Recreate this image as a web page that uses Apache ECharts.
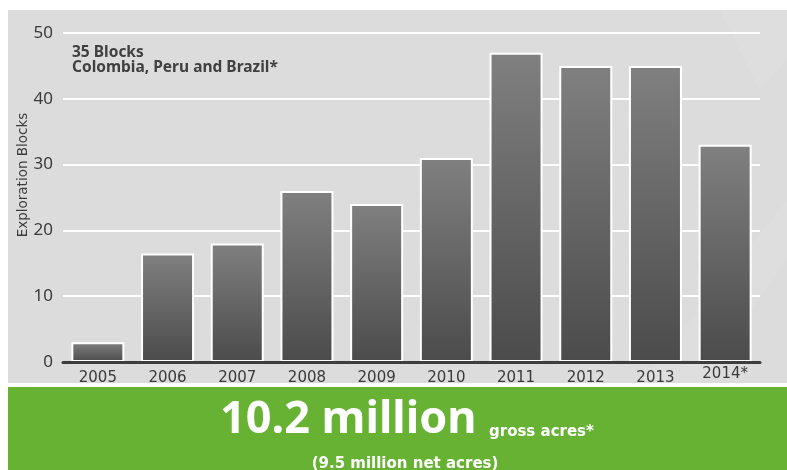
<!DOCTYPE html>
<html><head><meta charset="utf-8">
<script src="https://cdn.jsdelivr.net/npm/echarts@6/dist/echarts.min.js"></script>
<style>html,body{margin:0;padding:0;background:#fff}#c{width:787px;height:470px}</style>
</head><body><div id="c"></div>
<script>
const categories = ['2005', '2006', '2007', '2008', '2009', '2010', '2011', '2012', '2013', '2014*'];
const blocks = [3, 16.5, 18, 26, 24, 31, 47, 45, 45, 33];
const yTicks = [0, 10, 20, 30, 40, 50];
const yAxisName = 'Exploration Blocks';
const noteLines = ['35 Blocks', 'Colombia, Peru and Brazil*'];
const bigValue = '10.2 million';
const bigUnit = 'gross acres*';
const subLine = '(9.5 million net acres)';

const chart = echarts.init(document.getElementById('c'), null, {renderer: 'canvas'});
const option = {
  animation: false,
  backgroundColor: '#ffffff',
  grid: {left: 63, right: 27, top: 33, bottom: 108, containLabel: false},
  xAxis: {
    type: 'category',
    data: categories.map(function (c) {
      return c.indexOf('*') >= 0 ? {value: c, textStyle: {padding: [-4, 0, 0, 0]}} : c;
    }),
    z: 5,
    axisLine: {show: true, lineStyle: {color: '#3d3d3d', width: 3}},
    axisTick: {show: false},
    axisLabel: {interval: 0, color: '#3a3a3a', fontSize: 15, fontFamily: 'DejaVu Sans', margin: 9},
    splitLine: {show: false}
  },
  yAxis: {
    type: 'value',
    min: yTicks[0],
    max: yTicks[yTicks.length - 1],
    interval: yTicks[1] - yTicks[0],
    axisLine: {show: false},
    axisTick: {show: false},
    axisLabel: {color: '#3a3a3a', fontSize: 17, fontFamily: 'Noto Sans', margin: 10},
    splitLine: {lineStyle: {color: '#ffffff', width: 2}}
  },
  series: [{
    type: 'bar',
    data: blocks,
    barWidth: 53,
    itemStyle: {
      borderColor: '#ffffff',
      borderWidth: 2,
      color: new echarts.graphic.LinearGradient(0, 0, 0, 1, [
        {offset: 0, color: '#808080'},
        {offset: 1, color: '#4b4b4b'}
      ])
    }
  }],
  graphic: [
    {type: 'rect', z: -10, silent: true, shape: {x: 8, y: 10, width: 779, height: 373}, style: {fill: '#dcdcdc'}},
    {type: 'polygon', z: -9, silent: true, shape: {points: [[640, 383], [787, 200], [787, 260], [700, 383]]}, style: {fill: '#dedede'}},
    {type: 'polygon', z: -9, silent: true, shape: {points: [[720, 10], [787, 10], [787, 60], [760, 90]]}, style: {fill: '#dedede'}},
    {type: 'rect', z: -10, silent: true, shape: {x: 8, y: 387, width: 779, height: 83}, style: {fill: '#67b233'}},
    {type: 'text', z: 10, silent: true, rotation: Math.PI / 2, x: 23, y: 175,
      style: {text: yAxisName, fill: '#3c3c3c', font: '13.5px "DejaVu Sans"', align: 'center', verticalAlign: 'middle'}},
    {type: 'text', z: 10, silent: true, x: 72, y: 53,
      style: {text: noteLines[0], fill: '#404040', font: 'bold 15.5px "Noto Sans"', align: 'left', verticalAlign: 'middle'}},
    {type: 'text', z: 10, silent: true, x: 72, y: 68,
      style: {text: noteLines[1], fill: '#404040', font: 'bold 15.5px "Noto Sans"', align: 'left', verticalAlign: 'middle'}},
    {type: 'text', z: 10, silent: true, x: 220, y: 420,
      style: {text: bigValue, fill: '#ffffff', font: 'bold 45px "Noto Sans"', align: 'left', verticalAlign: 'middle'}},
    {type: 'text', z: 10, silent: true, x: 489, y: 432,
      style: {text: bigUnit, fill: '#ffffff', font: 'bold 15px "DejaVu Sans"', align: 'left', verticalAlign: 'middle'}},
    {type: 'text', z: 10, silent: true, x: 405, y: 464,
      style: {text: subLine, fill: '#ffffff', font: 'bold 15px "DejaVu Sans"', align: 'center', verticalAlign: 'middle'}}
  ]
};
chart.setOption(option);
</script>
</body></html>
